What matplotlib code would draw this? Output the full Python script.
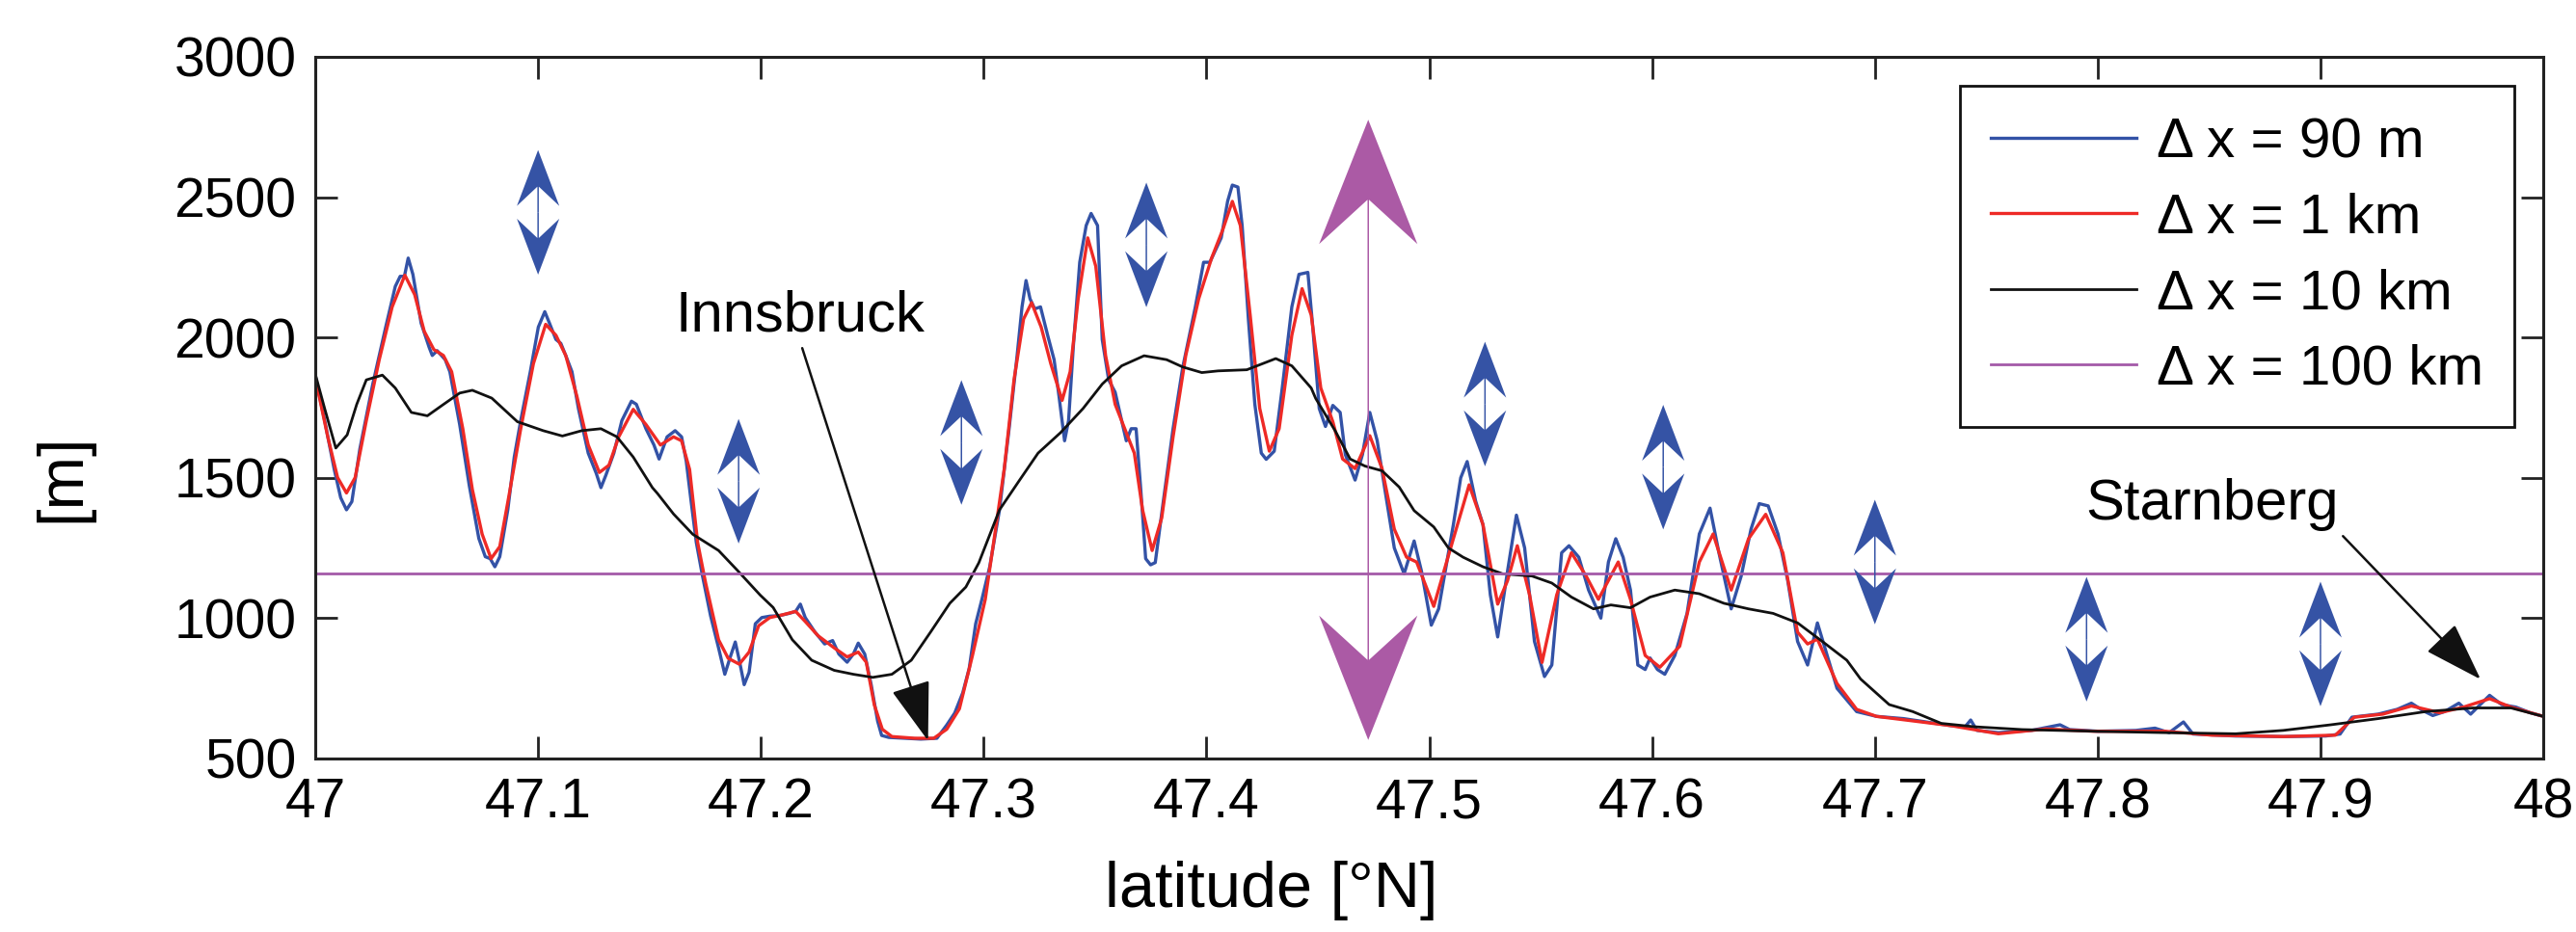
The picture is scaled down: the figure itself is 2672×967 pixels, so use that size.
import numpy as np
import matplotlib
matplotlib.use('Agg')
import matplotlib.pyplot as plt

plt.rcParams['font.family'] = ['Liberation Sans', 'DejaVu Sans']

# --- terrain profiles (latitude [deg N], height [m]) ---
lat_90m = [47.0000, 47.0042, 47.0085, 47.0114, 47.0140, 47.0164, 47.0200, 47.0258, 47.0316, 47.0359,
           47.0381, 47.0400, 47.0417, 47.0438, 47.0475, 47.0511, 47.0525, 47.0547, 47.0583, 47.0604,
           47.0648, 47.0691, 47.0734, 47.0763, 47.0785, 47.0806, 47.0828, 47.0864, 47.0893, 47.0922,
           47.0965, 47.1001, 47.1030, 47.1051, 47.1080, 47.1102, 47.1124, 47.1152, 47.1181, 47.1225,
           47.1261, 47.1282, 47.1304, 47.1340, 47.1376, 47.1419, 47.1441, 47.1484, 47.1520, 47.1543,
           47.1579, 47.1615, 47.1644, 47.1665, 47.1687, 47.1710, 47.1737, 47.1774, 47.1810, 47.1838,
           47.1864, 47.1885, 47.1903, 47.1925, 47.1947, 47.1975, 47.2004, 47.2040, 47.2084, 47.2127,
           47.2156, 47.2177, 47.2199, 47.2242, 47.2286, 47.2322, 47.2350, 47.2387, 47.2415, 47.2437,
           47.2466, 47.2495, 47.2524, 47.2542, 47.2574, 47.2646, 47.2718, 47.2790, 47.2834, 47.2870,
           47.2906, 47.2935, 47.2964, 47.2992, 47.3027, 47.3071, 47.3114, 47.3150, 47.3172, 47.3190,
           47.3208, 47.3229, 47.3255, 47.3287, 47.3316, 47.3338, 47.3363, 47.3381, 47.3402, 47.3431,
           47.3460, 47.3482, 47.3511, 47.3532, 47.3561, 47.3590, 47.3619, 47.3640, 47.3662, 47.3684,
           47.3705, 47.3727, 47.3749, 47.3770, 47.3806, 47.3850, 47.3893, 47.3950, 47.3987, 47.4015,
           47.4066, 47.4095, 47.4116, 47.4141, 47.4160, 47.4188, 47.4217, 47.4246, 47.4268, 47.4304,
           47.4340, 47.4383, 47.4415, 47.4455, 47.4477, 47.4506, 47.4534, 47.4567, 47.4600, 47.4623,
           47.4667, 47.4700, 47.4733, 47.4766, 47.4799, 47.4843, 47.4887, 47.4932, 47.4965, 47.5009,
           47.5042, 47.5108, 47.5141, 47.5170, 47.5208, 47.5241, 47.5274, 47.5307, 47.5351, 47.5391,
           47.5428, 47.5472, 47.5517, 47.5550, 47.5594, 47.5627, 47.5671, 47.5715, 47.5770, 47.5804,
           47.5837, 47.5870, 47.5903, 47.5936, 47.5969, 47.5991, 47.6024, 47.6057, 47.6102, 47.6157,
           47.6212, 47.6260, 47.6300, 47.6355, 47.6400, 47.6444, 47.6481, 47.6521, 47.6565, 47.6609,
           47.6653, 47.6698, 47.6742, 47.6786, 47.6830, 47.6918, 47.7007, 47.7128, 47.7341, 47.7405,
           47.7430, 47.7458, 47.7554, 47.7703, 47.7831, 47.7874, 47.8002, 47.8172, 47.8257, 47.8321,
           47.8385, 47.8428, 47.8619, 47.8833, 47.9024, 47.9088, 47.9141, 47.9259, 47.9344, 47.9408,
           47.9461, 47.9504, 47.9557, 47.9621, 47.9674, 47.9717, 47.9759, 47.9813, 47.9877, 47.9941,
           48.0000]
h_90m = [1863, 1704, 1530, 1429, 1386, 1415, 1603, 1834, 2037, 2182,
         2218, 2218, 2283, 2225, 2051, 1965, 1936, 1953, 1921, 1878,
         1690, 1473, 1284, 1219, 1212, 1183, 1219, 1386, 1574, 1704,
         1878, 2037, 2092, 2051, 1993, 1979, 1936, 1878, 1747, 1588,
         1516, 1465, 1509, 1588, 1704, 1773, 1762, 1675, 1617, 1567,
         1646, 1668, 1646, 1559, 1415, 1270, 1154, 1009, 894, 800,
         865, 915, 850, 763, 807, 980, 1002, 1007, 1009, 1017,
         1024, 1050, 1002, 951, 908, 920, 872, 843, 872, 911,
         872, 763, 633, 582, 575, 572, 569, 572, 619, 662,
         734, 821, 980, 1067, 1183, 1386, 1675, 1936, 2109, 2203,
         2138, 2102, 2109, 2008, 1921, 1791, 1632, 1704, 1965, 2268,
         2399, 2442, 2399, 1993, 1849, 1805, 1704, 1632, 1675, 1675,
         1458, 1212, 1190, 1198, 1415, 1675, 1892, 2109, 2268, 2268,
         2355, 2486, 2543, 2536, 2399, 2066, 1762, 1588, 1566, 1595,
         1820, 2109, 2225, 2232, 2037, 1747, 1683, 1758, 1733, 1583,
         1492, 1583, 1733, 1633, 1467, 1250, 1158, 1275, 1167, 975,
         1033, 1333, 1500, 1558, 1417, 1333, 1083, 933, 1167, 1367,
         1250, 917, 792, 833, 1233, 1258, 1217, 1100, 1000, 1200,
         1283, 1217, 1100, 833, 817, 858, 817, 800, 867, 1017,
         1300, 1392, 1233, 1033, 1150, 1317, 1408, 1400, 1300, 1133,
         917, 833, 983, 867, 750, 667, 650, 642, 617, 613,
         637, 600, 592, 600, 620, 603, 597, 600, 608, 592,
         630, 587, 580, 578, 580, 587, 647, 658, 675, 697,
         670, 653, 667, 697, 658, 692, 725, 692, 683, 663,
         650]

lat_1km = [47.0000, 47.0056, 47.0100, 47.0140, 47.0179, 47.0229, 47.0287, 47.0345, 47.0402, 47.0446,
           47.0489, 47.0532, 47.0575, 47.0612, 47.0662, 47.0705, 47.0749, 47.0789, 47.0828, 47.0871,
           47.0922, 47.0979, 47.1034, 47.1080, 47.1124, 47.1174, 47.1225, 47.1275, 47.1318, 47.1362,
           47.1427, 47.1484, 47.1549, 47.1608, 47.1644, 47.1680, 47.1716, 47.1752, 47.1810, 47.1853,
           47.1903, 47.1947, 47.1990, 47.2040, 47.2098, 47.2156, 47.2199, 47.2257, 47.2329, 47.2387,
           47.2437, 47.2473, 47.2509, 47.2545, 47.2588, 47.2689, 47.2776, 47.2834, 47.2891, 47.2949,
           47.3007, 47.3050, 47.3092, 47.3136, 47.3179, 47.3215, 47.3258, 47.3301, 47.3352, 47.3388,
           47.3424, 47.3467, 47.3503, 47.3547, 47.3590, 47.3633, 47.3676, 47.3713, 47.3756, 47.3799,
           47.3850, 47.3907, 47.3965, 47.4023, 47.4073, 47.4116, 47.4152, 47.4196, 47.4239, 47.4282,
           47.4326, 47.4383, 47.4429, 47.4470, 47.4513, 47.4567, 47.4611, 47.4667, 47.4733, 47.4788,
           47.4843, 47.4898, 47.4943, 47.5020, 47.5108, 47.5179, 47.5241, 47.5307, 47.5351, 47.5395,
           47.5450, 47.5506, 47.5572, 47.5638, 47.5704, 47.5759, 47.5848, 47.5903, 47.5969, 47.6035,
           47.6124, 47.6212, 47.6274, 47.6355, 47.6433, 47.6510, 47.6587, 47.6653, 47.6698, 47.6742,
           47.6830, 47.6918, 47.7007, 47.7128, 47.7341, 47.7554, 47.7767, 47.7980, 47.8300, 47.8513,
           47.8833, 47.9067, 47.9152, 47.9280, 47.9408, 47.9536, 47.9642, 47.9759, 47.9855, 48.0000]
h_1km = [1856, 1646, 1501, 1446, 1501, 1704, 1921, 2109, 2222, 2153,
         2022, 1957, 1936, 1878, 1675, 1458, 1299, 1212, 1255, 1444,
         1675, 1907, 2047, 2008, 1936, 1791, 1617, 1519, 1545, 1646,
         1744, 1690, 1617, 1646, 1632, 1530, 1270, 1125, 923, 857,
         836, 879, 973, 1002, 1012, 1024, 988, 937, 894, 862,
         879, 843, 691, 604, 578, 572, 572, 604, 677, 865,
         1067, 1299, 1530, 1849, 2066, 2124, 2037, 1907, 1776, 1878,
         2138, 2355, 2254, 1936, 1762, 1675, 1588, 1386, 1241, 1357,
         1646, 1936, 2138, 2283, 2384, 2485, 2399, 2080, 1747, 1595,
         1675, 2008, 2174, 2080, 1820, 1700, 1567, 1533, 1650, 1533,
         1317, 1217, 1200, 1042, 1283, 1475, 1333, 1050, 1133, 1258,
         1083, 842, 1083, 1233, 1150, 1067, 1200, 1067, 867, 825,
         900, 1200, 1300, 1100, 1283, 1370, 1233, 950, 908, 925,
         767, 675, 650, 638, 617, 588, 605, 597, 597, 583,
         578, 583, 647, 658, 687, 663, 683, 713, 683, 650]

lat_10km = [47.0000, 47.0042, 47.0092, 47.0143, 47.0186, 47.0229, 47.0301, 47.0359, 47.0431, 47.0503,
            47.0576, 47.0648, 47.0705, 47.0792, 47.0907, 47.1023, 47.1109, 47.1196, 47.1282, 47.1354,
            47.1427, 47.1513, 47.1536, 47.1608, 47.1694, 47.1810, 47.1896, 47.1997, 47.2055, 47.2141,
            47.2228, 47.2329, 47.2415, 47.2502, 47.2588, 47.2675, 47.2762, 47.2848, 47.2920, 47.2978,
            47.3071, 47.3157, 47.3244, 47.3345, 47.3446, 47.3532, 47.3619, 47.3720, 47.3821, 47.3893,
            47.3979, 47.4052, 47.4181, 47.4311, 47.4383, 47.4470, 47.4490, 47.4578, 47.4645, 47.4711,
            47.4788, 47.4865, 47.4932, 47.5020, 47.5086, 47.5152, 47.5241, 47.5329, 47.5461, 47.5550,
            47.5638, 47.5737, 47.5815, 47.5903, 47.5991, 47.6102, 47.6212, 47.6322, 47.6433, 47.6543,
            47.6653, 47.6764, 47.6874, 47.6936, 47.7064, 47.7170, 47.7298, 47.7447, 47.7661, 47.7980,
            47.8300, 47.8619, 47.8833, 47.9046, 47.9259, 47.9472, 47.9685, 47.9855, 48.0000]
h_10km = [1870, 1747, 1606, 1653, 1762, 1849, 1866, 1820, 1733, 1721,
          1762, 1802, 1812, 1784, 1700, 1668, 1649, 1668, 1675, 1646,
          1574, 1465, 1444, 1371, 1299, 1241, 1169, 1082, 1038, 923,
          850, 814, 800, 789, 800, 850, 951, 1053, 1111, 1197,
          1386, 1487, 1588, 1661, 1747, 1834, 1899, 1935, 1921, 1895,
          1875, 1881, 1885, 1925, 1899, 1820, 1783, 1667, 1567, 1542,
          1525, 1467, 1383, 1325, 1250, 1217, 1183, 1158, 1150, 1125,
          1075, 1033, 1047, 1037, 1075, 1100, 1087, 1053, 1033, 1017,
          983, 917, 850, 783, 692, 667, 625, 613, 603, 597,
          592, 588, 600, 620, 642, 667, 680, 680, 650]

h_100km = 1158

labels = ['\u0394 x = 90 m', '\u0394 x = 1 km', '\u0394 x = 10 km', '\u0394 x = 100 km']

# double arrows (centre latitude, centre height)
arrow_lat = [47.100, 47.190, 47.290, 47.373, 47.525, 47.605, 47.700, 47.795, 47.900]
arrow_h = [2446, 1488, 1626, 2330, 1763, 1538, 1200, 925, 908]
arrow_half = 222
big_arrow_lat = 47.4726
big_arrow_h = 1671
big_arrow_half = 1105

xticks = [47, 47.1, 47.2, 47.3, 47.4, 47.5, 47.6, 47.7, 47.8, 47.9, 48]
xticklabels = ['47', '47.1', '47.2', '47.3', '47.4', '47.5', '47.6', '47.7', '47.8', '47.9', '48']
yticks = [500, 1000, 1500, 2000, 2500, 3000]

c_blue = '#3352a6'
c_red = '#ee2a26'
c_purple = '#a45aa8'
c_arrow = '#3553a5'
c_big = '#ab5aa5'

fig = plt.figure(figsize=(26.72, 9.67), dpi=100)
ax = fig.add_axes([0.1224, 0.1862, 0.8649, 0.7528])

ax.plot(lat_90m, h_90m, color=c_blue, lw=2.4, label=labels[0], solid_joinstyle='round')
ax.plot(lat_1km, h_1km, color=c_red, lw=2.4, label=labels[1], solid_joinstyle='round')
ax.plot(lat_10km, h_10km, color='#111111', lw=2.0, label=labels[2], solid_joinstyle='round')
ax.axhline(h_100km, color=c_purple, lw=2.0, label=labels[3])

# blue double arrows: one arrow up and one down from each centre
n = len(arrow_lat)
ax.quiver(arrow_lat + arrow_lat, arrow_h + arrow_h, [0] * (2 * n),
          [arrow_half] * n + [-arrow_half] * n,
          angles='xy', scale_units='xy', scale=1, units='dots', width=1.5,
          headwidth=44 / 1.5, headlength=58 / 1.5, headaxislength=38 / 1.5,
          color=c_arrow, zorder=5)
ax.quiver([big_arrow_lat, big_arrow_lat], [big_arrow_h, big_arrow_h], [0, 0],
          [big_arrow_half, -big_arrow_half],
          angles='xy', scale_units='xy', scale=1, units='dots', width=1.5,
          headwidth=102 / 1.5, headlength=129 / 1.5, headaxislength=83 / 1.5,
          color=c_big, zorder=5)

ax.annotate('Innsbruck', xy=(47.2754, 554), xytext=(47.2178, 2022),
            fontsize=43, ha='center', va='baseline',
            arrowprops=dict(arrowstyle='-|>,head_length=0.9,head_width=0.3',
                            color='#111111', lw=1.8, relpos=(0.5, 0)))
ax.annotate('Starnberg', xy=(47.9727, 775), xytext=(47.8513, 1350),
            fontsize=43, ha='center', va='baseline',
            arrowprops=dict(arrowstyle='-|>,head_length=0.9,head_width=0.3',
                            color='#111111', lw=1.8, relpos=(1, 0)))

ax.set_xlim(47, 48)
ax.set_ylim(500, 3000)
ax.set_xticks(xticks)
ax.set_xticklabels(xticklabels)
ax.set_yticks(yticks)
ax.tick_params(direction='in', length=16.5, width=2, labelsize=41, pad=14,
               top=True, right=True, color='#222222')
for s in ax.spines.values():
    s.set_linewidth(2.2)
    s.set_color('#222222')

ax.set_xlabel('latitude [\u00b0N]', fontsize=48)
ax.xaxis.set_label_coords(0.429, -0.146)
ax.set_ylabel('[m]', fontsize=48)
ax.yaxis.set_label_coords(-0.10, 0.40)

leg = ax.legend(loc='upper right', bbox_to_anchor=(0.987, 0.9588), borderaxespad=0,
                fontsize=42, handlelength=2.6, handletextpad=0.35, borderpad=0.55,
                labelspacing=0.42, fancybox=False, edgecolor='#111111', framealpha=1)
leg.get_frame().set_linewidth(2)

fig.savefig('out.png', dpi=100)
